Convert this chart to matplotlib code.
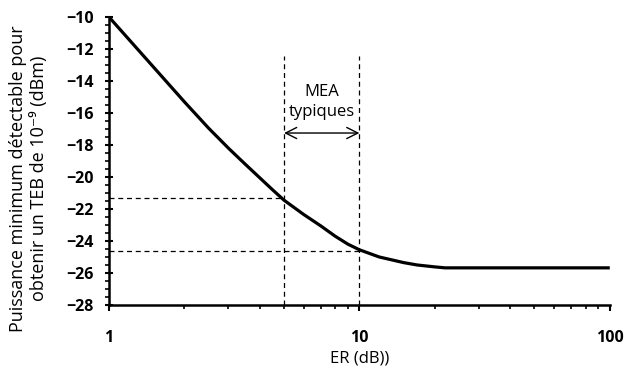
import matplotlib.pyplot as plt
from matplotlib.ticker import FixedLocator, MultipleLocator, NullFormatter

# données
er_db = [1, 1.5, 2, 2.5, 3, 3.5, 4, 4.5, 5, 6, 7, 8, 9, 10, 12, 15, 17, 20, 22, 30, 50, 100]
p_min = [-10, -13.1, -15.3, -16.95, -18.2, -19.2, -20.05, -20.8, -21.45, -22.35, -23.05,
         -23.7, -24.2, -24.55, -25.0, -25.35, -25.5, -25.62, -25.68, -25.68, -25.68, -25.68]

mea_bounds = [5, 10]
mea_levels = [-21.3, -24.6]

plt.rcParams['font.family'] = ['Open Sans', 'DejaVu Sans']

fig = plt.figure(figsize=(6.28, 3.71), dpi=100)
ax = fig.add_axes([0.1736, 0.178, 0.7974, 0.776])

ax.plot(er_db, p_min, color='black', lw=2.3, solid_capstyle='butt')

# lignes pointillées
for xb, yl in zip(mea_bounds, mea_levels):
    ax.plot([xb, xb], [-28, -12.45], ls=(0, (4, 3)), color='black', lw=0.9)
    ax.plot([1, xb], [yl, yl], ls=(0, (4, 3)), color='black', lw=0.9)

ax.annotate('', xy=(mea_bounds[0], -17.25), xytext=(mea_bounds[1], -17.25),
            arrowprops=dict(arrowstyle='<->', color='black', lw=1.0,
                            mutation_scale=20, shrinkA=0, shrinkB=0))
ax.text(7.1, -15.3, 'MEA\ntypiques', ha='center', va='center', fontsize=12,
        linespacing=1.35)

ax.set_xscale('log')
ax.set_xlim(1, 100)
ax.set_ylim(-28, -10)
ax.xaxis.set_major_locator(FixedLocator([1, 10, 100]))
ax.set_xticklabels(['1', '10', '100'])
ax.xaxis.set_minor_locator(FixedLocator([i * d for d in (1, 10) for i in range(2, 10)]))
ax.xaxis.set_minor_formatter(NullFormatter())
ax.yaxis.set_major_locator(MultipleLocator(2))
ax.yaxis.set_minor_locator(MultipleLocator(0.5))

for s in ['top', 'right']:
    ax.spines[s].set_visible(False)
for s in ['left', 'bottom']:
    ax.spines[s].set_linewidth(1.8)

ax.tick_params(axis='y', which='major', direction='inout', length=6, width=1.5, pad=8)
ax.tick_params(axis='y', which='minor', direction='out', length=3, width=1.2)
ax.tick_params(axis='x', which='major', direction='out', length=4, width=1.5, pad=14)
ax.tick_params(axis='x', which='minor', direction='out', length=3, width=1.2)
for lab in ax.get_xticklabels() + ax.get_yticklabels():
    lab.set_fontweight('bold')
    lab.set_fontsize(11.5)

ax.set_xlabel('ER (dB))', fontsize=12, labelpad=3)
ax.set_ylabel('Puissance minimum détectable pour\nobtenir un TEB de 10⁻⁹ (dBm)',
              fontsize=13, linespacing=1.2)
ax.yaxis.set_label_coords(-0.122, 0.44)

fig.savefig('out.png', dpi=100)
